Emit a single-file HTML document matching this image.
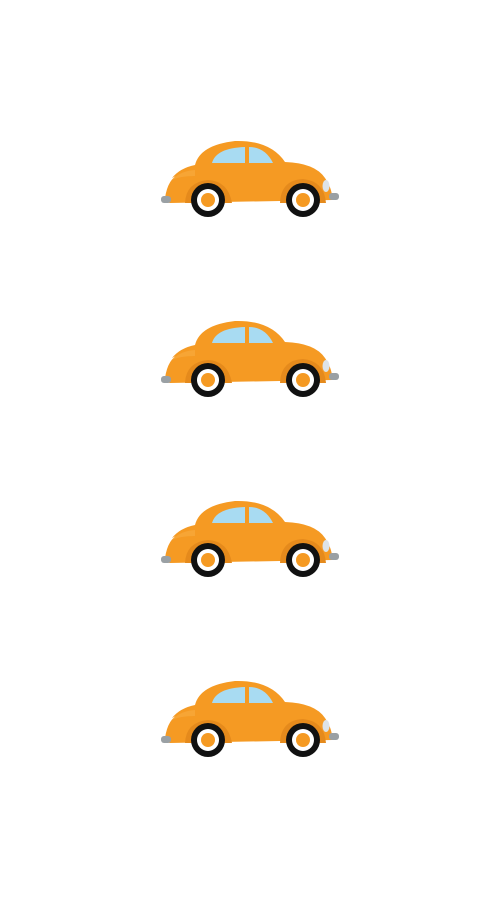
<!DOCTYPE html>
<html><head><meta charset="utf-8"><style>html,body{margin:0;padding:0;background:#fff;width:500px;height:900px;overflow:hidden}</style></head>
<body>
<svg id="chart" width="500" height="900" viewBox="0 0 500 900" xmlns="http://www.w3.org/2000/svg">
<defs>
<g id="car">
  <path d="M165,198 Q168,178 180,174 L172,178 Q180,168 195,165 Q200,145 235,141 Q270,140 285,162 Q315,163 325,178 Q333,190 332,200 L170,203 Q164,202 165,198 Z" fill="#f59a23"/>
  <path d="M172,180 Q180,171 195,170 L195,176 Q180,176 172,180 Z" fill="#f7a535"/>
  <path d="M185,203 Q186,182 208,180 Q228,181 232,203 Z" fill="#e58a1c"/>
  <path d="M280,203 Q281,180 303,179 Q324,181 326,203 Z" fill="#e58a1c"/>
  <path d="M212,163 Q216,148 245,147 L245,163 Z" fill="#a8dbf2"/>
  <path d="M249,147 Q265,147 273,163 L249,163 Z" fill="#a8dbf2"/>
  <ellipse cx="326" cy="186" rx="3.5" ry="6" fill="#dde3e6"/>
  <rect x="161" y="196" width="10" height="7" rx="3" fill="#9aa0a4"/>
  <rect x="329" y="193" width="10" height="7" rx="3" fill="#9aa0a4"/>
  <circle cx="208" cy="200" r="17" fill="#111"/>
  <circle cx="208" cy="200" r="11" fill="#fff"/>
  <circle cx="208" cy="200" r="7" fill="#f59a23"/>
  <circle cx="303" cy="200" r="17" fill="#111"/>
  <circle cx="303" cy="200" r="11" fill="#fff"/>
  <circle cx="303" cy="200" r="7" fill="#f59a23"/>
</g>
</defs>
</svg>
<script>
const carRows = ['car-1','car-2','car-3','car-4'];
const carCount = [1,1,1,1];
const svg = document.getElementById('chart');
const rowStep = 180;
carRows.forEach(function(name, i){
  for (let k = 0; k < carCount[i]; k++) {
    const u = document.createElementNS('http://www.w3.org/2000/svg','use');
    u.setAttribute('href','#car');
    u.setAttribute('transform','translate(' + (k*190) + ',' + (i*rowStep) + ')');
    
    
    svg.appendChild(u);
  }
});
</script>
</body></html>
